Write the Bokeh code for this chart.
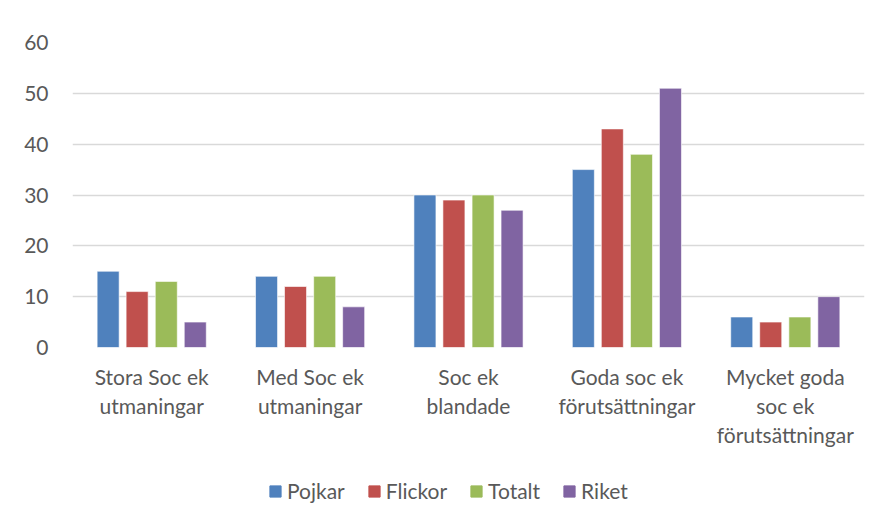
from bokeh.plotting import figure
from bokeh.layouts import column
from bokeh.models import ColumnDataSource, FactorRange, Range1d, Legend, LegendItem, FixedTicker
from bokeh.transform import dodge
from bokeh.embed import file_html
from bokeh.resources import INLINE

categories = ["Stora Soc ek\nutmaningar", "Med Soc ek\nutmaningar", "Soc ek\nblandade",
              "Goda soc ek\nförutsättningar", "Mycket goda\nsoc ek\nförutsättningar"]
series = ["Pojkar", "Flickor", "Totalt", "Riket"]
pojkar = [15, 14, 30, 35, 6]
flickor = [11, 12, 29, 43, 5]
totalt = [13, 14, 30, 38, 6]
riket = [5, 8, 27, 51, 10]
y_ticks = [0, 10, 20, 30, 40, 50, 60]

colors = ["#4F81BD", "#C0504D", "#9BBB59", "#8064A2"]
FONT = "Lato"
TXT = "#595959"

source = ColumnDataSource(data=dict(cat=categories, Pojkar=pojkar, Flickor=flickor,
                                    Totalt=totalt, Riket=riket))

p = figure(x_range=FactorRange(*categories), y_range=Range1d(0, 60),
           width=883, height=462, output_backend="svg", toolbar_location=None,
           min_border_left=72, min_border_right=19, min_border_top=42, min_border_bottom=115)
p.outline_line_color = None
p.background_fill_color = "white"
p.border_fill_color = "white"

offsets = [-0.275, -0.092, 0.092, 0.275]
for s, c, off in zip(series, colors, offsets):
    p.vbar(x=dodge("cat", off, range=p.x_range), top=s, width=0.139, source=source,
           fill_color=c, line_color="white", line_width=0.6)

p.yaxis.ticker = FixedTicker(ticks=y_ticks)
p.xgrid.grid_line_color = None
p.ygrid.grid_line_color = "#d9d9d9"
p.ygrid.grid_line_width = 1.3
for ax in (p.xaxis[0], p.yaxis[0]):
    ax.axis_line_color = None
    ax.major_tick_line_color = None
    ax.minor_tick_line_color = None
    ax.major_label_text_font = FONT
    ax.major_label_text_font_size = "21px"
    ax.major_label_text_color = TXT
p.yaxis.major_label_standoff = 18
p.xaxis.major_label_standoff = 10
p.xaxis.major_label_text_line_height = 1.16
p.x_range.range_padding = 0
p.x_range.group_padding = 0

# legend strip below the chart
lf = figure(width=883, height=56, output_backend="svg", toolbar_location=None,
            x_axis_type=None, y_axis_type=None, x_range=Range1d(0, 1), y_range=Range1d(0, 1),
            min_border_left=0, min_border_right=0, min_border_top=0, min_border_bottom=0)
lf.outline_line_color = None
lf.xgrid.grid_line_color = None
lf.ygrid.grid_line_color = None
items = []
for s, c in zip(series, colors):
    # swatch-only renderer, its single bar lies outside the visible range
    r = lf.vbar(x=[-10], top=[-10], width=0.1, fill_color=c, line_color=c)
    items.append(LegendItem(label=s, renderers=[r]))
legend = Legend(items=items, orientation="horizontal", location=(196, 15),
                label_text_font=FONT, label_text_font_size="21px", label_text_color=TXT,
                glyph_width=14, glyph_height=14, spacing=22, label_standoff=5,
                border_line_color=None, background_fill_alpha=0, margin=0, padding=0)
lf.add_layout(legend, "center")

layout = column(p, lf, spacing=0)
open("out.html", "w").write(file_html(layout, INLINE))
